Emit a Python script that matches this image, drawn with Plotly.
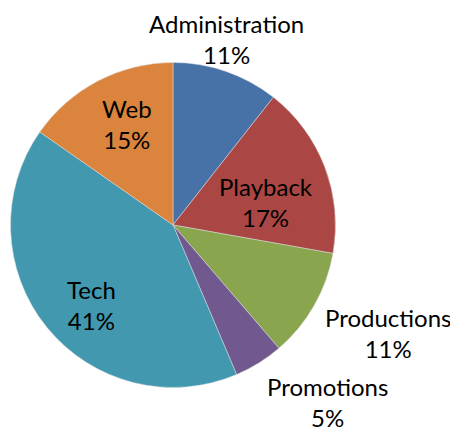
import plotly.graph_objects as go

labels = ["Administration", "Playback", "Productions", "Promotions", "Tech", "Web"]
values = [10.6, 17.2, 10.9, 4.9, 41.1, 15.3]
colors = ["#4672A8", "#AA4643", "#89A54E", "#71588F", "#4198AF", "#DB843D"]

# page body adds an 8px offset, so the figure is drawn 8px smaller
W, H, OFF = 450, 425, 8

# label block centres in window pixels (Excel-style placement)
label_px = [(226, 39), (266, 202), (388, 333), (327, 402), (91, 305), (127, 124)]

total = sum(values)

fig = go.Figure()
fig.add_trace(
    go.Pie(
        labels=labels,
        values=values,
        sort=False,
        direction="clockwise",
        rotation=0,
        marker=dict(colors=colors, line=dict(color="#DDDDDD", width=0.5)),
        textinfo="none",
        hoverinfo="label+percent",
        domain=dict(x=[0.0056, 0.7278], y=[0.107, 0.872]),
        showlegend=False,
    )
)

for name, val, (px, py) in zip(labels, values, label_px):
    fig.add_annotation(
        x=(px - OFF) / W,
        y=1 - (py - OFF) / H,
        xref="paper",
        yref="paper",
        text=f"{name}<br>{round(val / total * 100)}%",
        showarrow=False,
        xanchor="center",
        yanchor="middle",
        borderpad=0,
        font=dict(family="Lato, Open Sans, sans-serif", size=24, color="black"),
    )

fig.update_layout(
    width=W,
    height=H,
    margin=dict(l=0, r=0, t=0, b=0),
    paper_bgcolor="white",
    plot_bgcolor="white",
)

fig.write_html("out.html")
